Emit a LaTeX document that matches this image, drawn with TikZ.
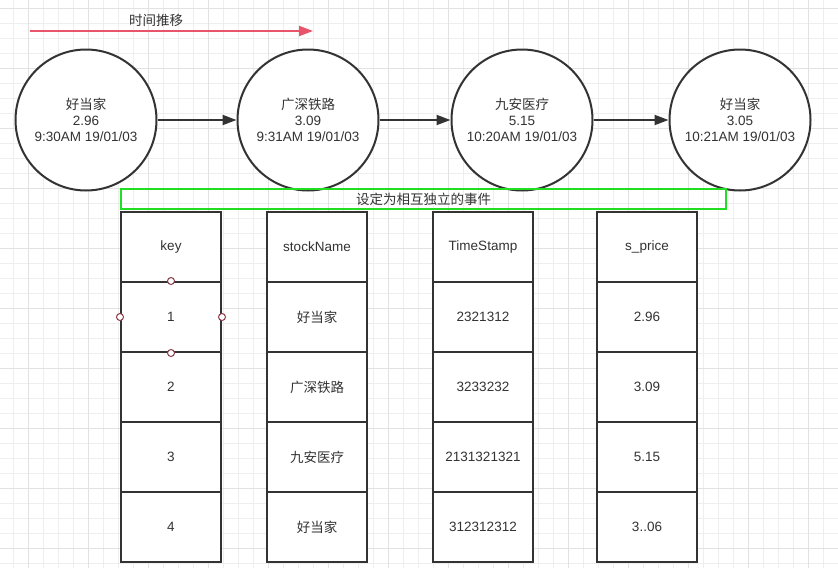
\documentclass[tikz,border=0pt]{standalone}
\usepackage{fontspec}
\setmainfont{Liberation Sans}
\newfontfamily\cjk{Noto Sans CJK SC}
\usetikzlibrary{arrows.meta}
\definecolor{ink}{HTML}{333333}
\definecolor{gridminor}{HTML}{EEEEEE}
\definecolor{gridmajor}{HTML}{E2E2E2}
\definecolor{grn}{HTML}{22DD22}
\definecolor{redarrow}{HTML}{E8556A}
\definecolor{handle}{HTML}{8B3A4A}
\tikzset{
  evt/.style={circle, draw=ink, line width=2pt, fill=white, minimum size=141pt, inner sep=0pt, align=center, text=ink, font=\fontsize{13.5}{16}\selectfont},
  cell/.style={draw=ink, line width=2pt, fill=white, minimum width=100pt, minimum height=70pt, inner sep=0pt, text=ink, font=\fontsize{13.5}{15}\selectfont},
  flow/.style={ink, line width=2pt, -{Triangle[length=14pt,width=10pt]}},
  hdl/.style={circle, draw=handle, fill=white, line width=1pt, minimum size=7pt, inner sep=0pt},
  lbl/.style={text=ink, font=\fontsize{13.5}{15}\selectfont, inner sep=0pt}
}
\begin{document}
\begin{tikzpicture}[x=1pt,y=-1pt]
\useasboundingbox (0,0) rectangle (838,568);
\fill[white] (0,0) rectangle (838,568);
% grid
\foreach \i in {0,...,55} {
  \pgfmathsetmacro{\xx}{13+15*\i}
  \draw[gridminor, line width=0.8pt] (\xx,0) -- (\xx,568);
}
\foreach \i in {0,...,38} {
  \pgfmathsetmacro{\yy}{8+15*\i}
  \draw[gridminor, line width=0.8pt] (0,\yy) -- (838,\yy);
}
\foreach \i in {0,...,13} {
  \pgfmathsetmacro{\xx}{28+60*\i}
  \draw[gridmajor, line width=0.8pt] (\xx,0) -- (\xx,568);
}
\foreach \i in {0,...,9} {
  \pgfmathsetmacro{\yy}{8+60*\i}
  \draw[gridmajor, line width=0.8pt] (0,\yy) -- (838,\yy);
}
% time arrow
\coordinate (ts) at (30,31);
\coordinate (te) at (313,31);
\draw[redarrow, line width=2pt, -{Triangle[length=14pt,width=10pt]}] (ts) -- (te);
\node[lbl] (tlabel) at (156,20) {\cjk 时间推移};
% events
\node[evt] (e1) at (86,120) {{\cjk 好当家}\\2.96\\9:30AM 19/01/03};
\node[evt] (e2) at (308,120) {{\cjk 广深铁路}\\3.09\\9:31AM 19/01/03};
\node[evt] (e3) at (522,120) {{\cjk 九安医疗}\\5.15\\10:20AM 19/01/03};
\node[evt] (e4) at (740,120) {{\cjk 好当家}\\3.05\\10:21AM 19/01/03};
\draw[flow] (e1) -- (e2);
\draw[flow] (e2) -- (e3);
\draw[flow] (e3) -- (e4);
% green bar
\node[draw=grn, line width=2pt, minimum width=605pt, minimum height=20pt, inner sep=0pt, text=ink, font=\fontsize{13.5}{15}\selectfont\cjk] (bar) at (423.5,199) {设定为相互独立的事件};
% tables
\foreach \col/\cx/\a/\b/\c/\d/\e in {
  k/171/key/1/2/3/4,
  n/317/stockName/{\cjk 好当家}/{\cjk 广深铁路}/{\cjk 九安医疗}/{\cjk 好当家},
  t/483/TimeStamp/2321312/3233232/2131321321/312312312,
  p/647/s\_price/2.96/3.09/5.15/3..06} {
  \node[cell] (\col0) at (\cx,247) {\a};
  \node[cell] (\col1) at (\cx,317) {\b};
  \node[cell] (\col2) at (\cx,387) {\c};
  \node[cell] (\col3) at (\cx,457) {\d};
  \node[cell] (\col4) at (\cx,527) {\e};
}
% selection handles
\node[hdl] (h1) at (k1.north) {};
\node[hdl] (h2) at (k1.west) {};
\node[hdl] (h3) at (k1.east) {};
\node[hdl] (h4) at (k1.south) {};
\end{tikzpicture}
\end{document}
